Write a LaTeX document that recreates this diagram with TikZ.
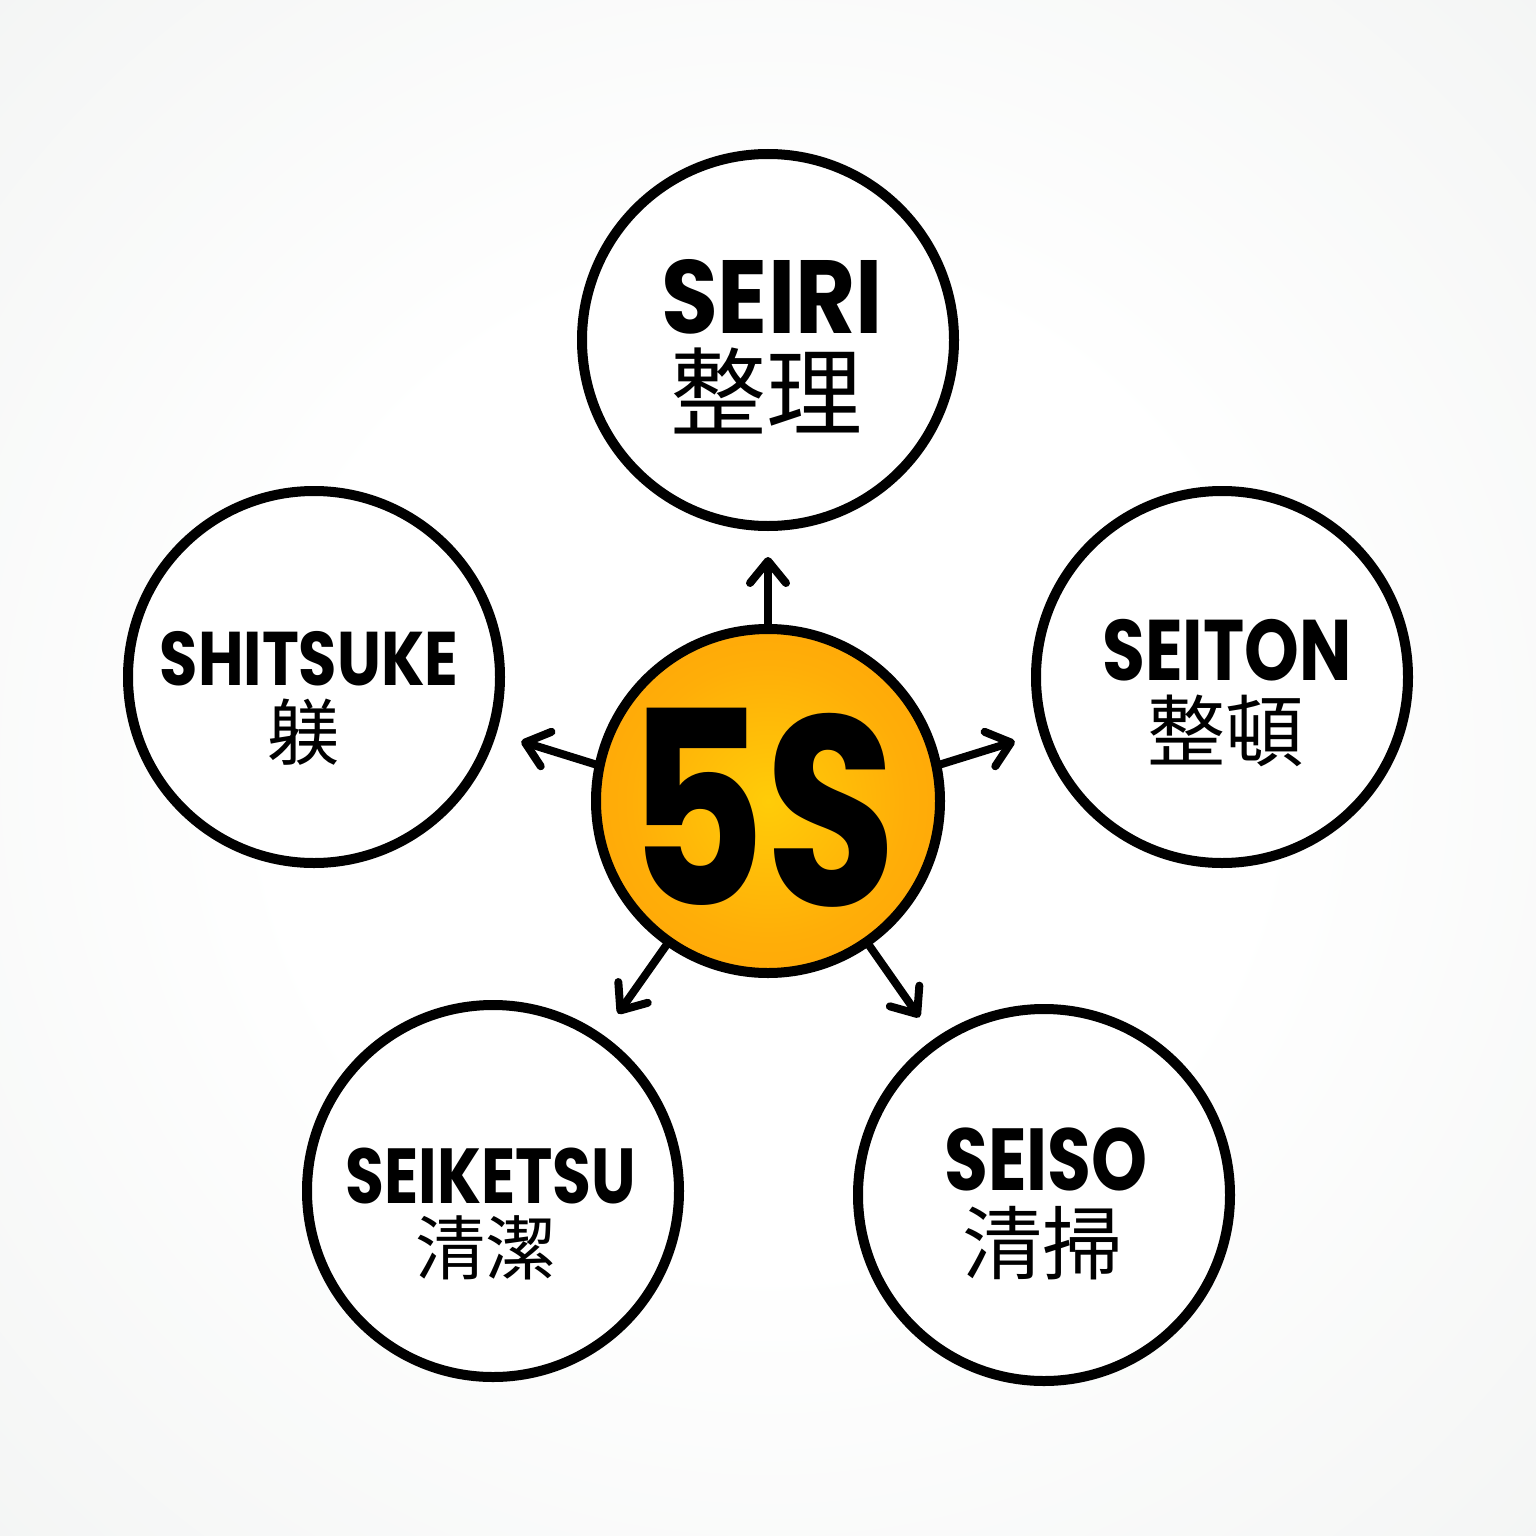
\documentclass[tikz,border=0pt]{standalone}
\usepackage{fontspec}
\setmainfont{Poppins}
\newfontfamily\cjk{Noto Sans CJK JP}
\usetikzlibrary{arrows.meta}
\definecolor{bggray}{HTML}{EEF0EF}
\definecolor{orin}{HTML}{FFCC08}
\definecolor{ormid}{HTML}{FFAE08}
\definecolor{orout}{HTML}{FF960C}
\pgfdeclareradialshading{bgshade}{\pgfpoint{0bp}{0bp}}{color(0bp)=(white); color(16bp)=(white); color(46bp)=(bggray); color(75bp)=(bggray)}
\pgfdeclareradialshading{hubshade}{\pgfpoint{0bp}{0bp}}{color(0bp)=(orin); color(20bp)=(ormid); color(50bp)=(orout); color(75bp)=(orout)}
\tikzset{
  outer/.style={circle, draw=black, fill=white, line width=10pt, minimum size=372pt, inner sep=0pt},
  hub/.style={circle, draw=black, line width=10pt, minimum size=344pt, inner sep=0pt,
    shading=hubshade},
  lat/.style={anchor=base, inner sep=0pt, font=\bfseries},
  kan/.style={anchor=base, inner sep=0pt},
  arr/.style={line width=8pt, line cap=round, shorten >=26pt,
    -{Straight Barb[length=22pt, width=36pt, line cap=round, line join=round]}}
}
\begin{document}
\begin{tikzpicture}[x=1pt, y=-1pt]
\useasboundingbox (0,0) rectangle (1536,1536);
\shade[shading=bgshade] (0,0) rectangle (1536,1536);

\node[hub] (c) at (768,801) {};
\node[outer] (seiri) at (768,340) {};
\node[outer] (seiton) at (1222,677) {};
\node[outer] (seiso) at (1044,1195) {};
\node[outer] (seiketsu) at (493,1191) {};
\node[outer] (shitsuke) at (314,677) {};

\draw[arr] (c) -- (seiri);
\draw[arr] (c.12) -- (seiton);
\draw[arr] (c) -- (seiso);
\draw[arr] (c) -- (seiketsu);
\draw[arr] (c.168) -- (shitsuke);

\node[font=\bfseries\fontsize{270}{270}\selectfont, xscale=0.79, inner sep=0pt] (five) at (762,808) {5S};

\node[lat, xscale=0.89] (seiri-l) at (772,333) {\fontsize{104}{104}\selectfont SEIRI};
\node[kan] (seiri-k) at (766,428) {\cjk\fontsize{96}{96}\selectfont 整理};

\node[lat, xscale=0.81] (seiton-l) at (1227,680) {\fontsize{86}{86}\selectfont SEITON};
\node[kan] (seiton-k) at (1225,760) {\cjk\fontsize{78}{78}\selectfont 整頓};

\node[lat, xscale=0.81] (seiso-l) at (1046,1190) {\fontsize{88}{88}\selectfont SEISO};
\node[kan] (seiso-k) at (1042,1273) {\cjk\fontsize{80}{80}\selectfont 清掃};

\node[lat, xscale=0.81] (seiketsu-l) at (491,1203) {\fontsize{78}{78}\selectfont SEIKETSU};
\node[kan] (seiketsu-k) at (485,1274) {\cjk\fontsize{70}{70}\selectfont 清潔};

\node[lat, xscale=0.82] (shitsuke-l) at (309,685) {\fontsize{76}{76}\selectfont SHITSUKE};
\node[kan] (shitsuke-k) at (303,759) {\cjk\fontsize{72}{72}\selectfont 躾};
\end{tikzpicture}
\end{document}
